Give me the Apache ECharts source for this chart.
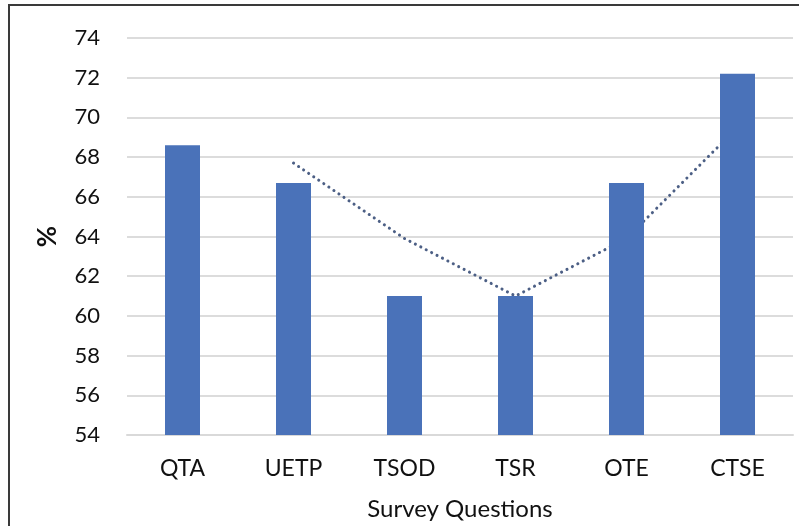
<!DOCTYPE html>
<html>
<head>
<meta charset="utf-8">
<script src="https://cdn.jsdelivr.net/npm/echarts@6/dist/echarts.min.js"></script>
<style>
  html, body { margin: 0; padding: 0; background: #fff; }
  #chart { width: 799px; height: 526px; }
</style>
</head>
<body>
<div id="chart"></div>
<script>
    // survey questions
    var categories = ['QTA', 'UETP', 'TSOD', 'TSR', 'OTE', 'CTSE'];
    // % per question (bars)
    var percentValues = [68.6, 66.7, 61.0, 61.0, 66.7, 72.2];
    // dotted trend line (2 period moving average)
    var trendValues = [null, 67.7, 63.9, 61.0, 63.9, 69.5];
    var yTicks = {min: 54, max: 74, interval: 2};

    var myChart = echarts.init(document.getElementById('chart'));
    var font = 'Lato, "Open Sans", sans-serif';

    var option = {
        animation: false,
        backgroundColor: '#fff',
        graphic: [
            {
                type: 'polyline',
                shape: { points: [[9, 530], [9, 5], [805, 5]] },
                style: { stroke: '#3a3a3a', lineWidth: 2, fill: null },
                silent: true
            }
        ],
        grid: { left: 127, right: 6, top: 38, bottom: 90 },
        xAxis: [
            {
                type: 'category',
                data: categories,
                name: 'Survey Questions',
                nameLocation: 'middle',
                nameGap: 62,
                nameTextStyle: { fontFamily: font, fontSize: 24, color: '#111' },
                axisTick: { show: false },
                axisLine: { lineStyle: { color: '#d9d9d9', width: 2 } },
                axisLabel: { fontFamily: font, fontSize: 23, color: '#111', margin: 22 }
            }
        ],
        yAxis: [
            {
                type: 'value',
                min: yTicks.min,
                max: yTicks.max,
                interval: yTicks.interval,
                name: '%',
                nameLocation: 'middle',
                nameRotate: 90,
                nameGap: 66,
                nameTextStyle: { fontFamily: font, fontSize: 26, fontWeight: 'bold', color: '#111' },
                axisLine: { show: false },
                axisTick: { show: false },
                splitLine: { lineStyle: { color: '#dcdcdc', width: 2 } },
                axisLabel: { fontFamily: font, fontSize: 22, color: '#111', margin: 27 }
            }
        ],
        series: [
            {
                name: 'percent',
                type: 'bar',
                data: percentValues,
                barWidth: 35,
                z: 3,
                itemStyle: { color: '#4a72b9' }
            },
            {
                name: 'trend',
                type: 'line',
                data: trendValues,
                z: 2,
                symbol: 'none',
                smooth: false,
                lineStyle: { color: '#4c5f85', width: 3, type: [0.1, 6], cap: 'round' }
            }
        ]
    };
    myChart.setOption(option);
</script>
</body>
</html>
